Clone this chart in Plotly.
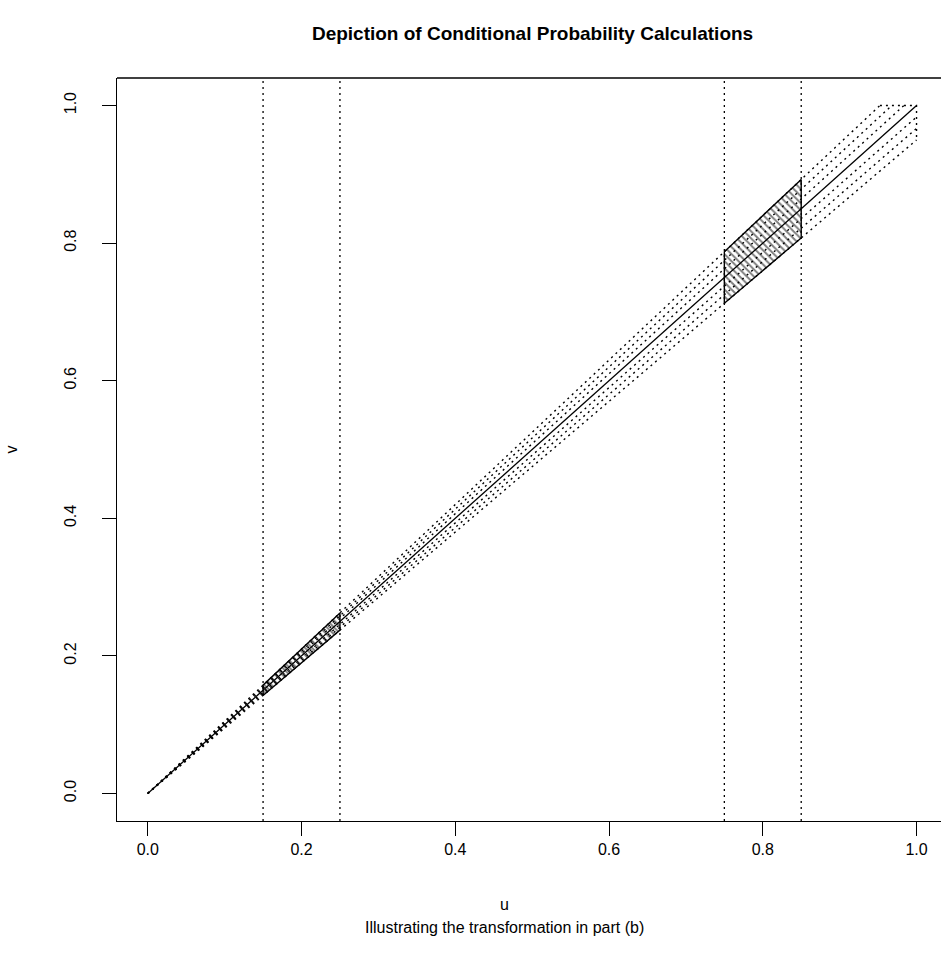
import plotly.graph_objects as go

# ---- data ----
slopes_dotted = [0.95, 0.9667, 0.9833, 1.0167, 1.0333, 1.05]
slope_solid = 1.0
band_low = 0.95
band_high = 1.05
lower_interval = [0.15, 0.25]
upper_interval = [0.75, 0.85]
vlines_u = [0.15, 0.25, 0.75, 0.85]
tick_vals = [0.0, 0.2, 0.4, 0.6, 0.8, 1.0]
tick_text = ["0.0", "0.2", "0.4", "0.6", "0.8", "1.0"]

FONT = "Liberation Sans, Arial, Helvetica, sans-serif"
DOT = "2px,4px"

fig = go.Figure()


def ray(c):
    # line v = c*u inside the unit square
    if c > 1:
        return [0, 1 / c], [0, 1]
    return [0, 1], [0, c]


for c in slopes_dotted:
    xs, ys = ray(c)
    fig.add_trace(go.Scatter(x=xs, y=ys, mode="lines",
                             line=dict(color="black", width=1.4, dash=DOT),
                             hoverinfo="skip", showlegend=False))
# outer edges of the band at v = 1 and u = 1
fig.add_trace(go.Scatter(x=[1 / band_high, 1, 1], y=[1, 1, band_low], mode="lines",
                         line=dict(color="black", width=1.4, dash=DOT),
                         hoverinfo="skip", showlegend=False))

xs, ys = ray(slope_solid)
fig.add_trace(go.Scatter(x=xs, y=ys, mode="lines",
                         line=dict(color="black", width=1.3),
                         hoverinfo="skip", showlegend=False))

for a, b in (lower_interval, upper_interval):
    px = [a, b, b, a, a]
    py = [band_low * a, band_low * b, band_high * b, band_high * a, band_low * a]
    fig.add_trace(go.Scatter(x=px, y=py, mode="lines", fill="toself",
                             fillcolor="rgba(0,0,0,0)",
                             fillpattern=dict(shape="\\", size=5, solidity=0.4,
                                              fgcolor="black", bgcolor="rgba(0,0,0,0)"),
                             line=dict(color="black", width=1.4),
                             hoverinfo="skip", showlegend=False))

for u in vlines_u:
    fig.add_shape(type="line", xref="x", yref="paper", x0=u, x1=u, y0=0, y1=1,
                  line=dict(color="black", width=1.3, dash=DOT))

# box top edge
fig.add_shape(type="line", xref="paper", yref="paper", x0=0, x1=1, y0=1, y1=1,
              line=dict(color="black", width=1.3))

W, H = 941, 970
L, R, T = 117.3, 0, 78.2
B = H - 821.2
pxu = 768.5

fig.update_layout(
    width=W, height=H,
    margin=dict(l=L, r=R, t=T, b=B, pad=0),
    paper_bgcolor="white", plot_bgcolor="white",
    font=dict(family=FONT, size=16, color="black"),
    title=dict(text="<b>Depiction of Conditional Probability Calculations</b>",
               x=((117.3 + 947.8) / 2) / W, xanchor="center",
               y=1 - 33 / H, yanchor="middle", yref="container",
               font=dict(family=FONT, size=19, color="black")),
    xaxis=dict(range=[-0.04, -0.04 + (W - L) / pxu], tickvals=tick_vals, ticktext=tick_text,
               ticks="outside", ticklen=14, tickwidth=1.3, tickcolor="black",
               showline=True, linecolor="black", linewidth=1.3,
               showgrid=False, zeroline=False, tickfont=dict(size=16)),
    yaxis=dict(range=[-0.04, 1.04], tickvals=tick_vals, ticktext=tick_text,
               ticks="outside", ticklen=14, tickwidth=1.3, tickcolor="black",
               showline=True, linecolor="black", linewidth=1.3, tickangle=-90,
               ticklabelstandoff=19,
               showgrid=False, zeroline=False, tickfont=dict(size=16)),
)

pw = W - L
ph = H - T - B
bottom = H - B
fig.add_annotation(text="u", xref="paper", yref="paper",
                   x=(505 - L) / pw, y=-(905 - bottom) / ph,
                   showarrow=False, xanchor="center", yanchor="middle",
                   font=dict(size=16))
fig.add_annotation(text="Illustrating the transformation in part (b)", xref="paper", yref="paper",
                   x=(505 - L) / pw, y=-(928 - bottom) / ph,
                   showarrow=False, xanchor="center", yanchor="middle",
                   font=dict(size=16))
fig.add_annotation(text="v", xref="paper", yref="paper",
                   x=(12 - L) / pw, y=(bottom - 450) / ph, textangle=-90,
                   showarrow=False, xanchor="center", yanchor="middle", borderpad=0,
                   font=dict(size=16))

fig.write_html("out.html", config={"displayModeBar": False},
               post_script="document.body.style.margin='0px';document.body.style.overflow='hidden';")
